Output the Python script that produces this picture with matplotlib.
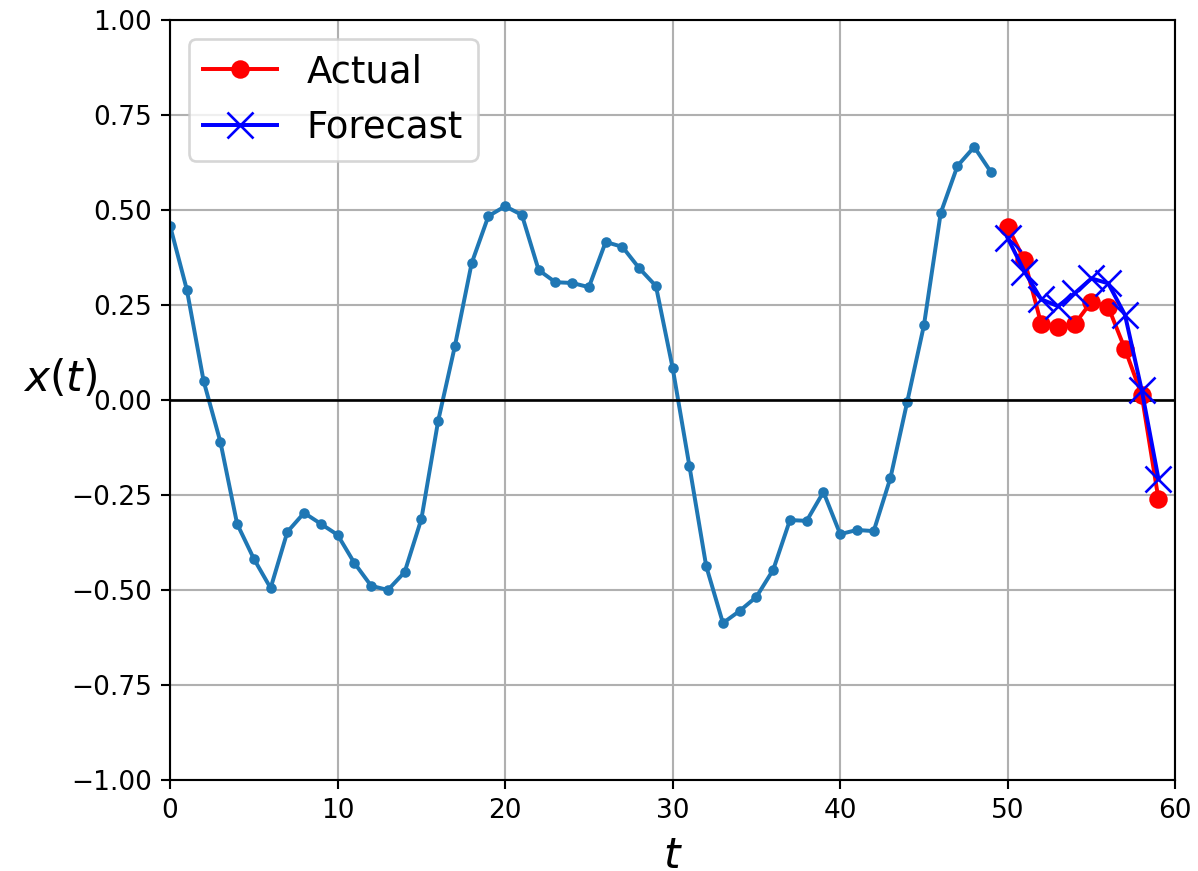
import numpy as np
import matplotlib
matplotlib.use("Agg")
import matplotlib.pyplot as plt

# past series, t = 0..49
series = [0.458, 0.29, 0.05, -0.11, -0.326, -0.418, -0.495, -0.347, -0.297, -0.326,
          -0.355, -0.429, -0.489, -0.50, -0.453, -0.313, -0.055, 0.142, 0.36, 0.484,
          0.51, 0.487, 0.342, 0.31, 0.308, 0.297, 0.416, 0.403, 0.347, 0.30,
          0.084, -0.174, -0.437, -0.587, -0.555, -0.518, -0.447, -0.316, -0.318, -0.242,
          -0.353, -0.342, -0.345, -0.205, -0.005, 0.197, 0.492, 0.616, 0.666, 0.60]
# next 10 steps, t = 50..59
actual = [0.456, 0.368, 0.20, 0.193, 0.20, 0.259, 0.245, 0.134, 0.013, -0.261]
forecast = [0.426, 0.338, 0.265, 0.247, 0.281, 0.32, 0.307, 0.224, 0.026, -0.208]

n_steps = len(series)
ahead = len(actual)

dpi = 190
fig = plt.figure(figsize=(1198 / dpi, 871 / dpi), dpi=dpi)
ax = fig.add_axes([0.142, 0.1045, 0.839, 0.8725])

ax.plot(series, ".-")
ax.hlines(0, 0, 100, linewidth=1, color="k")
t_future = np.arange(n_steps, n_steps + ahead)
ax.plot(t_future, actual, "ro-", label="Actual")
ax.plot(t_future, forecast, "bx-", label="Forecast", markersize=10)
ax.axis([0, n_steps + ahead, -1, 1])
ax.grid(True)
ax.set_xlabel("$t$", fontsize=16)
ax.set_ylabel("$x(t)$", fontsize=16, rotation=0)
ax.legend(fontsize=14)

fig.savefig("out.png", dpi=dpi)
